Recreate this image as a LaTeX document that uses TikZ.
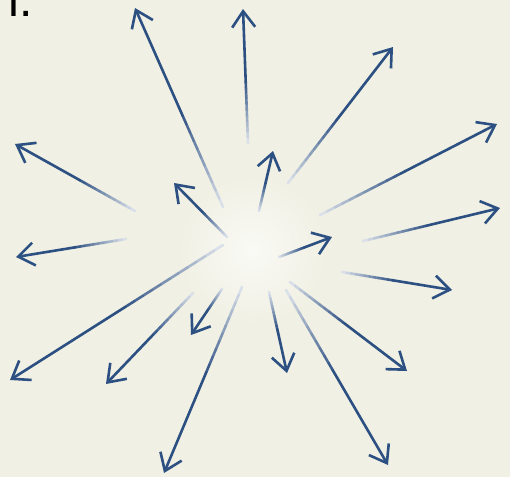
\documentclass[tikz,border=0pt]{standalone}
\usepackage{fontspec}
\setmainfont{Liberation Sans}
\usetikzlibrary{arrows.meta, calc}

\definecolor{paper}{RGB}{240,240,228}
\definecolor{rayblue}{RGB}{44,80,130}

\begin{document}
\begin{tikzpicture}[
  x=1pt, y=-1pt,
  arr/.style={-{Straight Barb[length=16pt, width=23pt, line width=2.6pt]}, line width=2.6pt, draw=rayblue},
  seg/.style={line width=2.6pt, line cap=round},
  lbl/.style={font=\fontsize{48}{48}\selectfont, inner sep=0pt, text=black}
]
% ================= PAPER =================
\useasboundingbox (0,0) rectangle (510,477);
\fill[paper] (0,0) rectangle (510,477);
\shade[inner color=white!65!paper, outer color=paper] (252,250) circle (75);

\node[lbl, anchor=base west] (cut) at (-7.5,16) {n.};

% ================= RAYS =================
\foreach \i/\sx/\sy/\tx/\ty in {
    1/223/207/135/8,   2/248/143/243/9,   3/288/183/393/47,
    4/320/215/497/124, 5/363/241/500/208, 6/342/272/452/290,
    7/290/282/407/371, 8/286/290/388/465, 9/269/292/287/373,
    10/242/287/164/473, 11/222/289/191/335, 12/193/293/106/384,
    13/223/245/10/380, 14/126/239/16/257, 15/135/211/15/144,
    16/227/237/174/183, 17/259/211/273/151, 18/279/257/332/237}{
  \coordinate (s\i) at (\sx,\sy);
  \coordinate (t\i) at (\tx,\ty);
  % faded first half
  \foreach \k in {1,...,12}{
    \pgfmathsetmacro{\fa}{(\k-1)/24}
    \pgfmathsetmacro{\fb}{\k/24}
    \pgfmathsetmacro{\tint}{10+90*\k/12}
    \draw[seg, draw=rayblue!\tint!white] ($(s\i)!\fa!(t\i)$) -- ($(s\i)!\fb!(t\i)$);
  }
  \draw[arr] ($(s\i)!0.5!(t\i)$) -- (t\i);
}
\end{tikzpicture}
\end{document}
